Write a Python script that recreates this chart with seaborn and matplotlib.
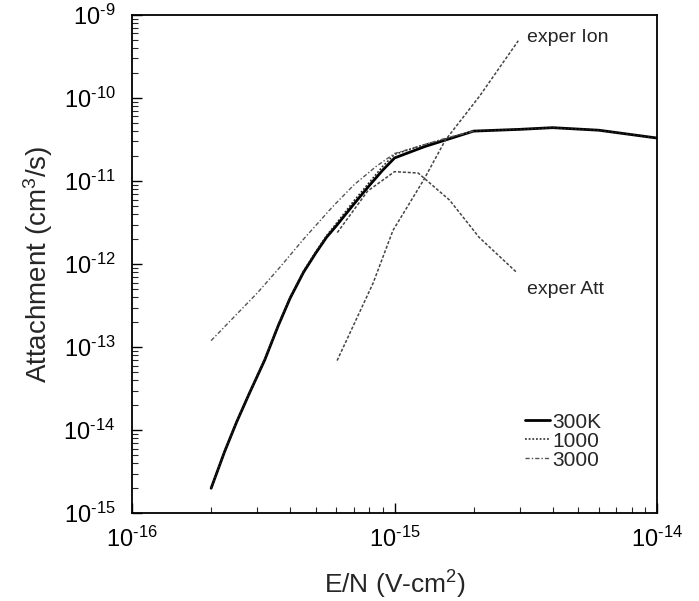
import numpy as np
import pandas as pd
import matplotlib
matplotlib.use("Agg")
import matplotlib.pyplot as plt
import seaborn as sns
from matplotlib.ticker import LogLocator, FuncFormatter, NullFormatter

# ---- data ----
en_300 = [2e-16, 2.25e-16, 2.5e-16, 2.8e-16, 3.2e-16, 3.6e-16, 4e-16, 4.5e-16, 5e-16, 5.5e-16, 6e-16, 7e-16, 8e-16,
          9e-16, 1e-15, 1.3e-15, 1.6e-15, 2e-15, 3e-15, 4e-15, 6e-15, 1e-14]
k_300 = [2e-15, 5.5e-15, 1.25e-14, 2.8e-14, 7e-14, 1.8e-13, 3.9e-13, 8e-13, 1.35e-12, 2.1e-12, 2.9e-12, 5.3e-12, 8.8e-12,
         1.35e-11, 1.9e-11, 2.6e-11, 3.2e-11, 4.0e-11, 4.2e-11, 4.4e-11, 4.1e-11, 3.3e-11]

en_1000 = [2e-16, 2.25e-16, 2.5e-16, 2.8e-16, 3.2e-16, 3.6e-16, 4e-16, 4.5e-16, 5e-16, 5.5e-16, 6e-16, 7e-16, 8e-16,
           9e-16, 1e-15, 1.3e-15, 1.6e-15, 2e-15, 3e-15, 4e-15, 6e-15, 1e-14]
k_1000 = [2e-15, 5.6e-15, 1.27e-14, 2.85e-14, 7.2e-14, 1.85e-13, 4.0e-13, 8.3e-13, 1.4e-12, 2.2e-12, 3.1e-12, 5.8e-12, 9.6e-12,
          1.5e-11, 2.1e-11, 2.75e-11, 3.3e-11, 4.0e-11, 4.2e-11, 4.4e-11, 4.1e-11, 3.3e-11]

en_3000 = [2e-16, 3e-16, 3.66e-16, 4.5e-16, 5.8e-16, 7e-16, 8.5e-16, 1e-15, 1.3e-15, 1.6e-15, 2e-15]
k_3000 = [1.2e-13, 4.5e-13, 9.2e-13, 2.0e-12, 4.9e-12, 9e-12, 1.5e-11, 2.15e-11, 2.75e-11, 3.35e-11, 4.0e-11]

en_att = [6.05e-16, 7.9e-16, 1e-15, 1.23e-15, 1.62e-15, 2.1e-15, 2.9e-15]
k_att = [2.4e-12, 7.6e-12, 1.3e-11, 1.25e-11, 5.9e-12, 2.1e-12, 8.1e-13]

en_ion = [6.04e-16, 8.28e-16, 9.86e-16, 1.29e-15, 1.56e-15, 2.11e-15, 2.96e-15]
k_ion = [6.9e-14, 5.9e-13, 2.55e-12, 1.03e-11, 3.1e-11, 1.06e-10, 4.9e-10]

legend_labels = ["300K", "1000", "3000"]
y_ticks = [1e-15, 1e-14, 1e-13, 1e-12, 1e-11, 1e-10, 1e-9]
x_ticks = [1e-16, 1e-15, 1e-14]

sns.set_theme(style="ticks")
plt.rcParams['font.family'] = ['Liberation Sans', 'DejaVu Sans']
plt.rcParams['mathtext.fontset'] = 'custom'
plt.rcParams['mathtext.rm'] = 'Liberation Sans'
plt.rcParams['mathtext.it'] = 'Liberation Sans'
plt.rcParams['mathtext.default'] = 'regular'
plt.rcParams['axes.unicode_minus'] = False

fig = plt.figure(figsize=(6.99, 6.01), dpi=100)
ax = fig.add_axes([0.189, 0.146, 0.751, 0.829])

def df(x, y):
    return pd.DataFrame({"x": x, "y": y})

sns.lineplot(data=df(en_300, k_300), x="x", y="y", ax=ax, color="black", lw=2.0, ls="-", label=legend_labels[0], sort=False)
sns.lineplot(data=df(en_1000, k_1000), x="x", y="y", ax=ax, color="#222222", lw=1.1, ls=(0, (1.2, 1.2)), label=legend_labels[1], sort=False)
sns.lineplot(data=df(en_3000, k_3000), x="x", y="y", ax=ax, color="#555555", lw=1.0, ls=(0, (3, 1.5, 1, 1.5)), label=legend_labels[2], sort=False)
sns.lineplot(data=df(en_att, k_att), x="x", y="y", ax=ax, color="#444444", lw=1.1, ls=(0, (2, 1.2)), sort=False)
sns.lineplot(data=df(en_ion, k_ion), x="x", y="y", ax=ax, color="#444444", lw=1.1, ls=(0, (2, 1.2)), sort=False)

ax.set_xscale("log")
ax.set_yscale("log")
ax.set_xlim(1e-16, 1e-14)
ax.set_ylim(1e-15, 1e-9)

def fmt(v, pos):
    e = int(np.round(np.log10(v)))
    return "$10^{\u2010%d}$" % abs(e)

ax.set_xticks(x_ticks)
ax.set_yticks(y_ticks)
ax.xaxis.set_major_formatter(FuncFormatter(fmt))
ax.yaxis.set_major_formatter(FuncFormatter(fmt))
ax.xaxis.set_minor_locator(LogLocator(base=10, subs=np.arange(2, 10), numticks=20))
ax.yaxis.set_minor_locator(LogLocator(base=10, subs=np.arange(2, 10), numticks=20))
ax.xaxis.set_minor_formatter(NullFormatter())
ax.yaxis.set_minor_formatter(NullFormatter())
ax.tick_params(which="major", direction="in", length=7, width=1, labelsize=17, colors="black")
ax.tick_params(which="minor", direction="in", length=4, width=0.8)
ax.tick_params(axis="x", which="major", pad=10)
ax.tick_params(axis="y", which="major", pad=12)
for s in ax.spines.values():
    s.set_color("black")
    s.set_linewidth(1.3)

ax.set_xlabel(r"E/N (V-cm$^2$)", fontsize=19, labelpad=12)
ax.set_ylabel(r"Attachment (cm$^3$/s)", fontsize=20, labelpad=6)

ax.text(3.2e-15, 5.3e-10, "exper Ion", fontsize=14, va="center", ha="left")
ax.text(3.2e-15, 4.9e-13, "exper Att", fontsize=14, va="center", ha="left")

leg = ax.legend(loc="lower right", bbox_to_anchor=(0.93, 0.05), frameon=False, fontsize=15,
                handlelength=1.2, handletextpad=0.1, labelspacing=0.0)

fig.savefig("out.png", dpi=100, facecolor="white")
